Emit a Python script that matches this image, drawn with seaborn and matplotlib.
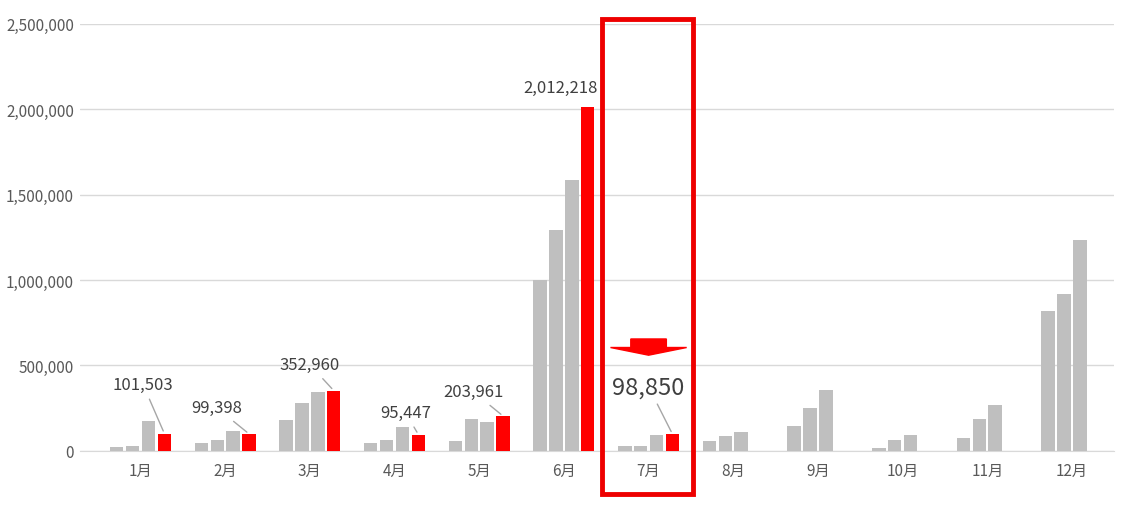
import numpy as np
import pandas as pd
import matplotlib.pyplot as plt
import seaborn as sns
from matplotlib.patches import Rectangle, FancyArrow

months = ["1月", "2月", "3月", "4月", "5月", "6月", "7月", "8月", "9月", "10月", "11月", "12月"]
year1 = [25000, 47000, 180000, 47000, 58000, 1000000, 28000, 55000, 145000, 18000, 78000, 820000]
year2 = [30000, 65000, 282000, 65000, 187000, 1295000, 28000, 88000, 252000, 65000, 187000, 920000]
year3 = [175000, 117000, 345000, 140000, 170000, 1587000, 95000, 112000, 357000, 95000, 270000, 1235000]
year4 = [101503, 99398, 352960, 95447, 203961, 2012218, 98850, np.nan, np.nan, np.nan, np.nan, np.nan]

series = ["y1", "y2", "y3", "y4"]
df = pd.DataFrame({"month": months * 4,
                   "series": np.repeat(series, 12),
                   "value": year1 + year2 + year3 + year4})

sns.set_style("white")
plt.rcParams['font.family'] = ['Noto Sans CJK JP', 'DejaVu Sans']

fig = plt.figure(figsize=(11.37, 5.06), dpi=100)
ax = fig.add_axes([0.07, 0.107, 0.91, 0.844])
sns.barplot(data=df, x="month", y="value", hue="series", order=months,
            palette=["#bfbfbf", "#bfbfbf", "#bfbfbf", "#ff0000"], saturation=1,
            width=0.75, gap=0.15, legend=False, ax=ax, zorder=3, edgecolor="none")

ax.set_ylim(0, 2500000)
ax.set_xlim(-0.72, 11.5)
ticks = np.arange(0, 2500001, 500000)
ax.set_yticks(ticks)
ax.set_yticklabels([f"{t:,}" for t in ticks], color="#595959", fontsize=11)
ax.tick_params(axis="x", colors="#595959", labelsize=11, length=0, pad=8)
ax.tick_params(axis="y", length=0, pad=4)
ax.grid(axis="y", color="#d9d9d9", lw=1, zorder=0)
for s in ["left", "right", "top"]:
    ax.spines[s].set_visible(False)
ax.spines["bottom"].set_color("#d9d9d9")
ax.set_xlabel("")
ax.set_ylabel("")

# labels for red bars
def red_x(i):
    return i + 1.5 * 0.1875

labels = [(0, -0.25, 386), (1, -0.38, 409), (2, -0.28, 366), (3, -0.15, 414),
          (4, -0.35, 393), (5, -0.32, 89)]
for i, dx, ypix in labels:
    yv = (452 - ypix) / 427 * 2500000
    ax.annotate(f"{year4[i]:,.0f}", xy=(red_x(i), year4[i]), xytext=(red_x(i) + dx, yv),
                ha="center", va="center", fontsize=12, color="#404040",
                arrowprops=dict(arrowstyle="-", color="#a6a6a6", lw=1) if i != 5 else None,
                zorder=5)

# highlighted July
yv = (452 - 388) / 427 * 2500000
ax.annotate(f"{year4[6]:,.0f}", xy=(red_x(6), year4[6]), xytext=(6.0, yv),
            ha="center", va="center", fontsize=17, color="#404040",
            arrowprops=dict(arrowstyle="-", color="#a6a6a6", lw=1), zorder=5)
ax.add_patch(FancyArrow(6.0, 655000, 0, -95000, width=0.42, head_width=0.9,
                        head_length=45000, length_includes_head=True,
                        color="#ff0000", zorder=6))
ax.add_patch(Rectangle((5.45, -250000), 1.07, 2780000, fill=False, ec="#ee0000",
                       lw=3.5, clip_on=False, zorder=7))

fig.savefig("out.png", dpi=100)
